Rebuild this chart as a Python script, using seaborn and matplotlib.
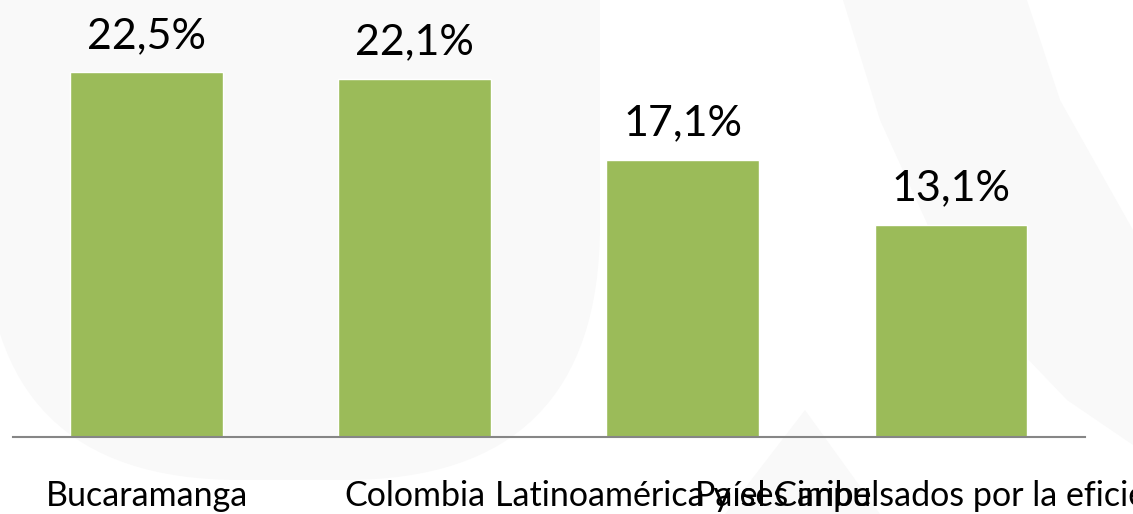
import matplotlib
matplotlib.use("Agg")
import matplotlib.pyplot as plt
import seaborn as sns
import pandas as pd
from matplotlib.patches import FancyBboxPatch, Polygon

# Data
categorias = ["Bucaramanga", "Colombia", "Latinoamérica y el Caribe",
              "Países impulsados por la eficiencia"]
valores = [22.5, 22.1, 17.1, 13.1]
etiquetas = ["22,5%", "22,1%", "17,1%", "13,1%"]

sns.set_style("white")
plt.rcParams["font.family"] = ["Lato", "DejaVu Sans"]

W, H = 1133, 514
fig = plt.figure(figsize=(W / 100, H / 100), dpi=100)

# faint watermark shapes in the background (pixel coords)
bg = fig.add_axes([0, 0, 1, 1], zorder=0)
bg.set_xlim(0, W)
bg.set_ylim(H, 0)
bg.axis("off")
gris = "#F9F9F9"
bg.add_patch(FancyBboxPatch((-15, -400), 615, 880,
                            boxstyle="round,pad=0,rounding_size=255",
                            fc=gris, ec="none"))
bg.add_patch(Polygon([(843, 0), (1027, 0), (1060, 100), (1133, 230), (1133, 445),
                      (1067, 400), (1000, 330), (930, 230), (880, 120)],
                     fc=gris, ec="none"))
bg.add_patch(Polygon([(805, 410), (880, 514), (725, 514)], fc=gris, ec="none"))

# bar chart
ax = fig.add_axes([12.5 / W, (H - 437) / H, (1085 - 12.5) / W, 437 / H], zorder=1)
ax.patch.set_alpha(0)
df = pd.DataFrame({"categoria": categorias, "valor": valores})
sns.barplot(data=df, x="categoria", y="valor", color="#9BBB59", saturation=1,
            width=0.57, ax=ax)

ax.set_xlim(-0.5, 3.5)
ax.set_ylim(0, 26.94)
for i, (v, t) in enumerate(zip(valores, etiquetas)):
    ax.annotate(t, (i, v), xytext=(0, 17.5), textcoords="offset points",
                ha="center", va="baseline", fontsize=31, color="black")

for s in ["top", "left", "right"]:
    ax.spines[s].set_visible(False)
ax.spines["bottom"].set_color("#868686")
ax.spines["bottom"].set_linewidth(1.5)
ax.set_xlabel("")
ax.set_ylabel("")
ax.set_yticks([])
ax.tick_params(axis="x", length=0, pad=31, labelsize=24.5, labelcolor="black")

fig.savefig("out.png", dpi=100)
